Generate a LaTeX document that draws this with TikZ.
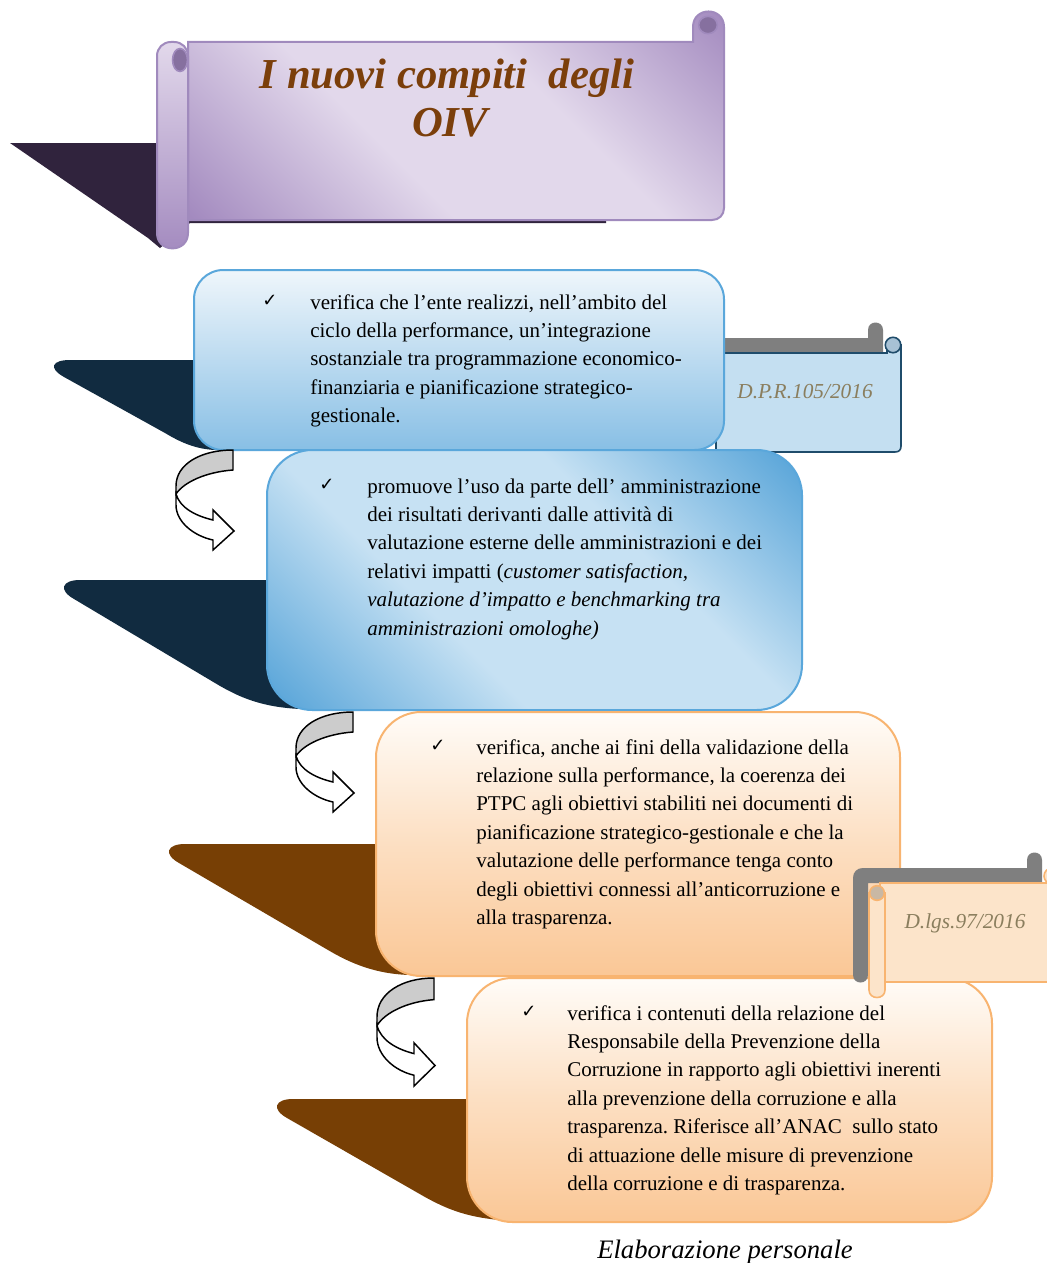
\documentclass[tikz,border=0pt]{standalone}
\usepackage{fontspec}
\setmainfont{Liberation Serif}
\newfontfamily\chkfont{DejaVu Sans}
\frenchspacing
\definecolor{ttlbrown}{HTML}{7B3F0B}
\definecolor{lavlight}{HTML}{E2D8EB}
\definecolor{lavdark}{HTML}{A38ABF}
\definecolor{lavborder}{HTML}{A08ABD}
\definecolor{curldark}{HTML}{86709F}
\definecolor{purpshadow}{HTML}{30233D}
\definecolor{navyshadow}{HTML}{112B40}
\definecolor{brownshadow}{HTML}{773F05}
\definecolor{bluetop}{HTML}{EFF6FB}
\definecolor{bluebot}{HTML}{88BFE5}
\definecolor{blueborder}{HTML}{5AA7DB}
\definecolor{bluelight}{HTML}{C6E1F3}
\definecolor{bluedark}{HTML}{55A3D8}
\definecolor{orgtop}{HTML}{FFFCF8}
\definecolor{orgbot}{HTML}{FAC796}
\definecolor{orgborder}{HTML}{F8B470}
\definecolor{peach}{HTML}{FCE4CA}
\definecolor{peachcurl}{HTML}{C9B8A4}
\definecolor{dprfill}{HTML}{C4DFF1}
\definecolor{dprcurl}{HTML}{A7C1D5}
\definecolor{dprborder}{HTML}{1F4C6B}
\definecolor{graybar}{HTML}{7F7F7F}
\definecolor{lawtext}{HTML}{8A7E5E}
\definecolor{arrowgray}{HTML}{CCCCCC}
\pgfdeclarehorizontalshading{bluediag}{100bp}{color(0bp)=(bluedark); color(15bp)=(bluedark); color(38bp)=(bluelight); color(62bp)=(bluelight); color(85bp)=(bluedark); color(100bp)=(bluedark)}
\pgfdeclarehorizontalshading{purplediag}{100bp}{color(0bp)=(lavdark); color(15bp)=(lavdark); color(40bp)=(lavlight); color(60bp)=(lavlight); color(85bp)=(lavdark); color(100bp)=(lavdark)}
\tikzset{
  bodytxt/.style={anchor=base west, inner sep=0pt, align=left, font=\fontsize{15.75}{21.3}\selectfont},
  chk/.style={anchor=base west, inner sep=0pt, font=\chkfont\fontsize{13.5}{13.5}\selectfont},
  lawtxt/.style={anchor=base, inner sep=0pt, text=lawtext, font=\fontsize{16}{16}\selectfont\itshape},
  ttltxt/.style={anchor=base, inner sep=0pt, text=ttlbrown, font=\fontsize{32}{32}\selectfont\bfseries\itshape},
  bluebox/.style={draw=blueborder, line width=1.5pt},
  orgbox/.style={draw=orgborder, line width=1.5pt, top color=orgtop, bottom color=orgbot, middle color=orgtop!45!orgbot},
}
\newcommand{\cvarrow}[3]{%
\begin{scope}[shift={(#1,#2)}, yscale=#3, line width=1.1pt]
\filldraw[fill=arrowgray] (57,0) .. controls (25,0) and (0,14) .. (0,36) -- (0,44) .. controls (8,32) and (30,22) .. (57,20) -- cycle;
\filldraw[fill=white] (0,44) -- (0,55) .. controls (0,72) and (18,86) .. (37,90) -- (37,100) -- (58,81) -- (37,60) -- (37,70) .. controls (20,66) and (4,58) .. (0,44) -- cycle;
\end{scope}}
\begin{document}
\begin{tikzpicture}[x=0.75pt,y=-0.75pt]
\useasboundingbox (0,0) rectangle (1046,1263);
\fill[white] (0,0) rectangle (1046,1263);

% ---------- title scroll ----------
\fill[purpshadow] (10,143) -- (190,143) -- (190,219) -- (606,219) -- (606,223) -- (190,223) -- (160,248) -- (148,238) -- cycle;
\shadedraw[shading=purplediag, shading angle=45, draw=lavborder, line width=1.5pt]
  (188,42) -- (693,42) -- (693,27) .. controls (693,6.3) and (724,6.3) .. (724,27) -- (724,208) .. controls (724,215) and (719,220) .. (712,220) -- (188,220) -- cycle;
\filldraw[fill=curldark, draw=lavborder, line width=1.2pt] (708,25) ellipse [x radius=7pt, y radius=6.5pt];
\shadedraw[top color=lavlight, bottom color=lavdark, draw=lavborder, line width=1.5pt]
  (157,56) .. controls (157,48) and (163,42) .. (171,42) -- (174,42) .. controls (182,42) and (188,48) .. (188,56) -- (188,233) .. controls (188,253.5) and (157,253.5) .. (157,233) -- cycle;
\filldraw[fill=curldark, draw=lavborder, line width=1.2pt] (180,60) ellipse [x radius=5.6pt, y radius=8.6pt];
\node[ttltxt] (title1) at (447,89) {I nuovi compiti\ \ degli};
\node[ttltxt] (title2) at (450,137) {OIV};

% ---------- D.P.R. scroll (behind box 1) ----------
\fill[graybar] (718,338) -- (868,338) -- (868,330) .. controls (868,320) and (883,320) .. (883,330) -- (883,353) -- (718,353) -- cycle;
\filldraw[fill=dprfill, draw=dprborder, line width=1.2pt]
  (716,353) -- (887,353) -- (887,345) -- (901,345) -- (901,446) .. controls (901,450) and (899,452) .. (895,452) -- (716,452) -- cycle;
\filldraw[fill=dprcurl, draw=dprborder, line width=1.2pt] (893,345) circle [radius=5.8pt];
\node[lawtxt] (dpr) at (805,398) {D.P.R.105/2016};

% ---------- box 1 ----------
\fill[navyshadow] (70,360) .. controls (52,360) and (48,368) .. (64,377) -- (165,433) .. controls (180,442) and (195,449) .. (215,450) -- (230,450) -- (230,360) -- cycle;
\shadedraw[bluebox, top color=bluetop, bottom color=bluebot, rounded corners=22pt] (194,270) rectangle (724,450);
\node[chk] (c1) at (262,306) {✓};
\node[bodytxt] (t1) at (310,422.6) {verifica che l’ente realizzi, nell’ambito del\\ciclo della performance, un’integrazione\\sostanziale tra programmazione economico-\\finanziaria e pianificazione strategico-\\gestionale.};

% ---------- box 2 ----------
\fill[navyshadow] (80,580) .. controls (62,580) and (58,590) .. (74,599) -- (215,683) .. controls (240,698) and (262,707) .. (300,709) -- (320,709) -- (320,580) -- cycle;
\shadedraw[bluebox, shading=bluediag, shading angle=45, rounded corners=34pt] (267,450) rectangle (802,710);
\node[chk] (c2) at (319,490) {✓};
\node[bodytxt] (t2) at (367,635) {promuove l’uso da parte dell’ amministrazione\\dei risultati derivanti dalle attività di\\valutazione esterne delle amministrazioni e dei\\relativi impatti (\textit{customer satisfaction,}\\\textit{valutazione d’impatto e benchmarking tra}\\\textit{amministrazioni omologhe)}};
\cvarrow{176}{450}{1}

% ---------- box 3 ----------
\fill[brownshadow] (185,844) .. controls (167,844) and (163,854) .. (179,863) -- (328,950) .. controls (350,963) and (375,974) .. (410,975) -- (430,975) -- (430,844) -- cycle;
\shadedraw[orgbox, rounded corners=34pt] (376,712) rectangle (900,976);
\node[chk] (c3) at (430,751) {✓};
\node[bodytxt] (t3) at (476,924.4) {verifica, anche ai fini della validazione della\\relazione sulla performance, la coerenza dei\\PTPC agli obiettivi stabiliti nei documenti di\\pianificazione strategico-gestionale e che la\\valutazione delle performance tenga conto\\degli obiettivi connessi all’anticorruzione e\\alla trasparenza.};
\cvarrow{296}{712}{1}

% ---------- box 4 ----------
\fill[brownshadow] (293,1099) .. controls (275,1099) and (271,1109) .. (287,1118) -- (425,1197) .. controls (445,1208) and (465,1217) .. (500,1220) -- (520,1220) -- (520,1099) -- cycle;
\shadedraw[orgbox, rounded corners=34pt] (467,978) rectangle (992,1222);
\node[chk] (c4) at (521,1017) {✓};
\node[bodytxt] (t4) at (567,1190.4) {verifica i contenuti della relazione del\\Responsabile della Prevenzione della\\Corruzione in rapporto agli obiettivi inerenti\\alla prevenzione della corruzione e alla\\trasparenza. Riferisce all’ANAC\ \ sullo stato\\di attuazione delle misure di prevenzione\\della corruzione e di trasparenza.};
\cvarrow{377}{978}{1.08}

% ---------- D.lgs scroll (front) ----------
\fill[graybar] (853,975) -- (853,878) .. controls (853,872) and (857,868) .. (863,868) -- (1027,868) -- (1027,860) .. controls (1027,850) and (1042,850) .. (1042,860) -- (1042,883) -- (868,883) -- (868,975) .. controls (868,985) and (853,985) .. (853,975) -- cycle;
\filldraw[fill=peach, draw=orgborder, line width=1.2pt] (880,883) -- (1056,883) -- (1056,982) -- (880,982) -- cycle;
\filldraw[fill=peach, draw=orgborder, line width=1.2pt] (1052,876) circle [radius=6pt];
\filldraw[fill=peach, draw=orgborder, line width=1.2pt] (869,893) -- (869,990) .. controls (869,1000) and (885,1000) .. (885,990) -- (885,893) -- cycle;
\filldraw[fill=peachcurl, draw=orgborder, line width=1.2pt] (877,893) circle [radius=5.5pt];
\node[lawtxt] (dlgs) at (965,928) {D.lgs.97/2016};

% ---------- caption ----------
\node[anchor=base west, inner sep=0pt, font=\fontsize{20}{20}\selectfont\itshape] (caption) at (597,1258) {Elaborazione personale};
\end{tikzpicture}
\end{document}
